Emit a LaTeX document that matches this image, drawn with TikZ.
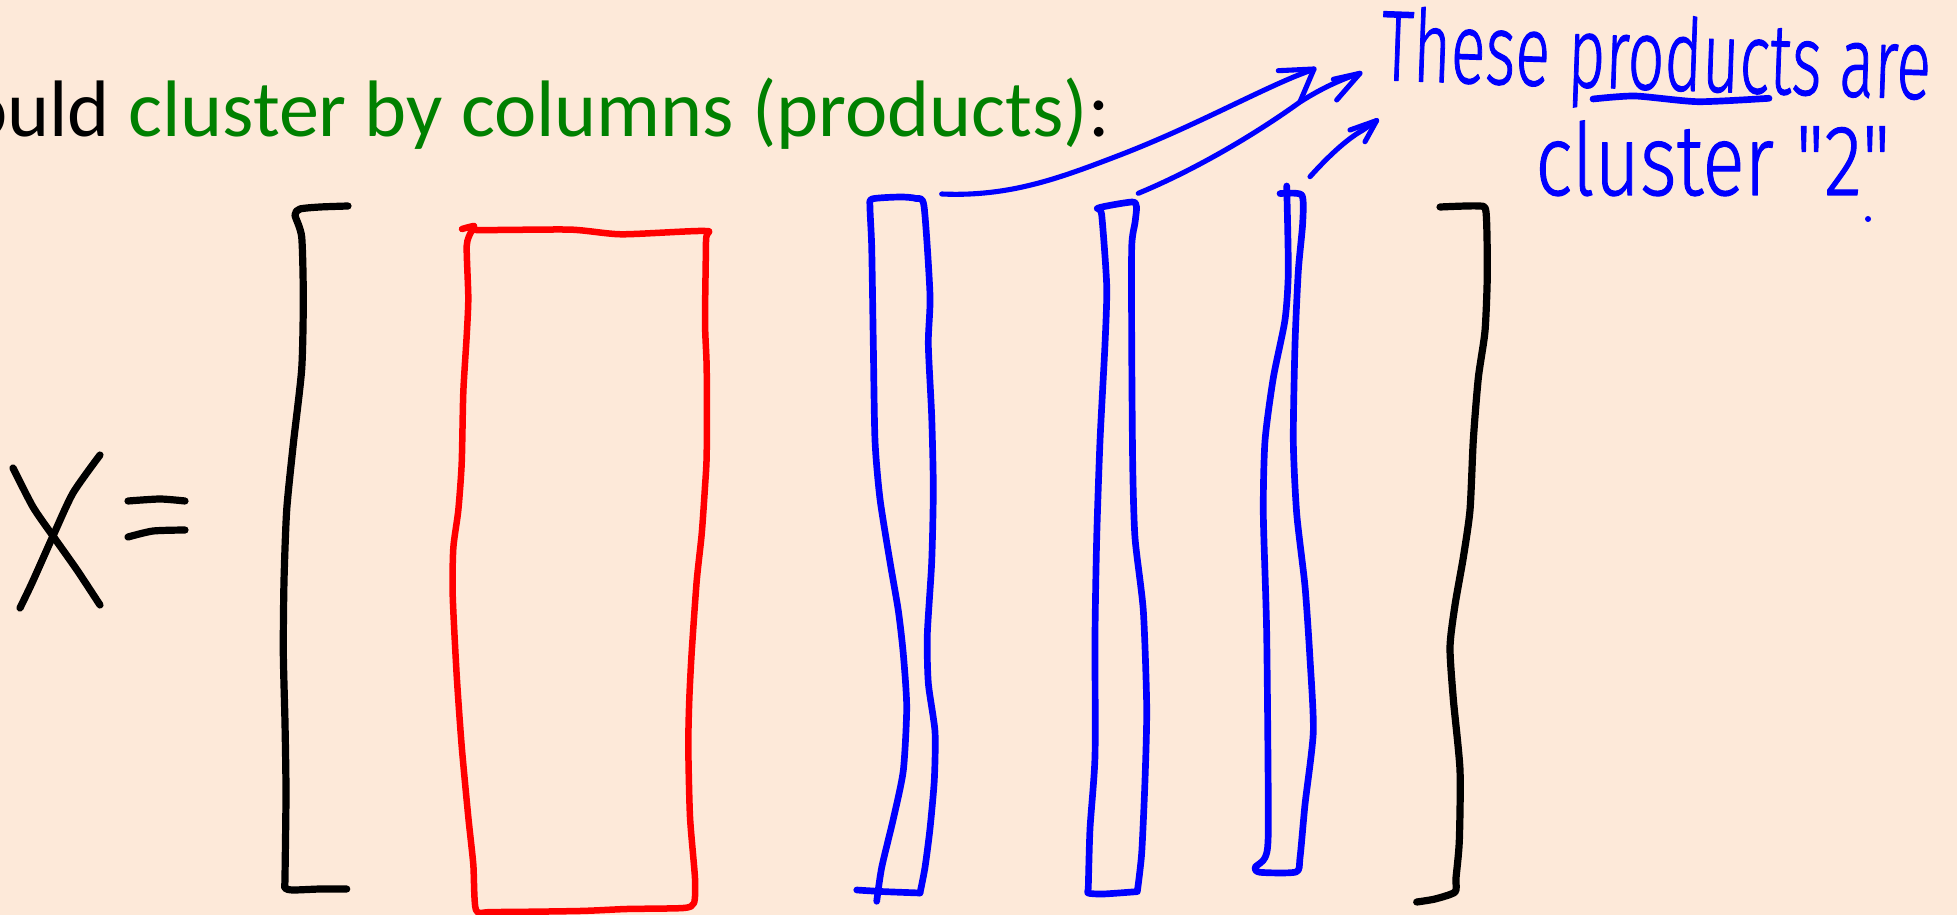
\documentclass[tikz,border=0pt]{standalone}
\usepackage{fontspec}
\setmainfont{Carlito}
\newfontfamily\handfont[FakeBold=1.2]{Fira Sans Light}
\definecolor{slide}{RGB}{253,233,217}
\definecolor{titlegreen}{RGB}{0,128,0}
\definecolor{ink}{RGB}{0,0,255}
\definecolor{pen}{RGB}{255,0,0}

\begin{document}
\begin{tikzpicture}[x=0.02cm,y=-0.02cm,line cap=round,line join=round,
  blackpen/.style={draw=black,line width=4.1pt},
  redpen/.style={draw=pen,line width=3.7pt},
  bluepen/.style={draw=ink,line width=3.8pt},
  arrowpen/.style={draw=ink,line width=2.9pt},
  sketch/.style={smooth,tension=0.4},
  handtext/.style={anchor=base west,inner sep=0pt,text=ink,font=\handfont\fontsize{57}{62}\selectfont}]

% slide background
\fill[slide] (0,0) rectangle (1957,915);
\useasboundingbox (0,0) rectangle (1957,915);
\clip (0,0) rectangle (1957,915);

% heading line
\node[anchor=base west,inner sep=0pt,font=\fontsize{45.6}{54}\selectfont] (title) at (-35,137)
  {ould \textcolor{titlegreen}{cluster by columns (products)}:};

% X =
\draw[blackpen] plot[sketch] coordinates {(13,468) (33,507) (53,536) (77,570) (100,605)};
\draw[blackpen] plot[sketch] coordinates {(100,455) (73,493) (53,536) (32,583) (20,608)};
\draw[blackpen] plot[sketch] coordinates {(128,501) (160,499) (185,501)};
\draw[blackpen] plot[sketch] coordinates {(128,537) (153,531) (185,530)};

% left bracket
\draw[blackpen] plot[sketch] coordinates {(348,206) (320,207) (300,209) (295,215) (301.7,237) (303.3,298)
  (301.7,369) (293.3,444) (286.7,510) (284,581) (283.3,652) (285,723) (286,793) (285,878) (285,888)
  (293,890) (320,889) (346.7,889)};

% right bracket
\draw[blackpen] plot[sketch] coordinates {(1440,207) (1478,206) (1486,212) (1487.3,274) (1485,331)
  (1478.3,378) (1473.3,440) (1470,510) (1463.3,557.5) (1455,605) (1450,647) (1453.3,699) (1460,770)
  (1459.3,841) (1456,878) (1455,892) (1435,899) (1416.7,902)};

% red column block
\draw[redpen] plot[sketch] coordinates {(462,229) (474,226) (476,230) (570,229.6) (621.7,234.3) (705,231)
  (706,240) (705,321.6) (706.7,368.8) (706.7,453.7) (705,486.7) (701.7,534) (696.7,581) (691.7,652)
  (689.3,699) (688.3,746.3) (690,817) (695,878.4) (694,903) (683.3,908) (626.7,909) (580,911) (493,912)
  (476,910) (473.3,864.3) (468.3,817.1) (461.7,746.3) (456.7,675.5) (452.7,595.3) (453.3,548.1)
  (458.3,510.3) (461.7,463.2) (463.3,392.4) (466.7,335.7) (468.3,298) (466.7,246) (471,232) (474,227)};

% blue column 1
\draw[bluepen] plot[sketch] coordinates {(876.7,901.3) (881.7,867.4) (893.3,819) (903.3,770.5) (906.7,707.4)
  (903.3,654) (898.3,610.5) (890,562) (880,499) (875,440.8) (873.3,344) (871.7,247) (870,208) (872,199)
  (900,197) (916,198.5) (924,206) (930,295) (928.3,344) (931.7,416.6) (933.3,489) (931.7,562)
  (927.3,634.7) (928.3,683) (935,731.7) (934.3,780) (930,828.6) (925,867.4) (920,893)};
\draw[bluepen] plot[sketch] coordinates {(920,893) (883.3,891.6) (856.7,890)};

% blue column 2
\draw[bluepen] plot[sketch] coordinates {(1137.3,891.6) (1141.7,852.9) (1145,780) (1146.7,707.4) (1143.3,610.5)
  (1135,537.8) (1132.7,465) (1131.7,344) (1131.7,247) (1135,222.7) (1136.5,207) (1132,202) (1098.3,208)
  (1101.7,215) (1106.7,285.7) (1105,344) (1100,440.8) (1096.7,537.8) (1095,634.7) (1095,756) (1090,828.6)
  (1088.3,886.8) (1088,893) (1103.3,894) (1137.3,891.6)};

% blue column 3
\draw[bluepen] plot[sketch] coordinates {(1280,193.6) (1301.7,195) (1302.7,222.7) (1298.3,271) (1295,344)
  (1293.3,440.8) (1296.7,513.6) (1305,586.3) (1310,659) (1313.3,731.7) (1305,804.4) (1300,857.7)
  (1296,872) (1260,872.3) (1255,867.4) (1265,857.7) (1268.3,828.6) (1266.7,634.7) (1263.3,513.6)
  (1265,440.8) (1273.3,377.8) (1285,319.7) (1288.3,271) (1286.7,186)};

% handwritten note
\node[handtext,rotate=-2] (note1) at (1380,80) {\resizebox{11.0cm}{\height}{These products are}};
\node[handtext] (note2) at (1535,195) {\resizebox{7.1cm}{\height}{cluster "2"}};
\draw[bluepen] plot[sketch] coordinates {(1593,99) (1635,96) (1698,101.7) (1769,98.3)};
\fill[ink] (1868,219) circle (3);

% arrows from the blue columns to the note
\coordinate (c1) at (941.7,194);
\coordinate (c2) at (1138.3,193.3);
\coordinate (c3) at (1310,176.7);
\coordinate (t1) at (1314,69);
\coordinate (t2) at (1360,73.3);
\coordinate (t3) at (1376.7,120.5);

\draw[arrowpen] (c1) .. controls (1010,197) and (1060,178) .. (1120,155)
  .. controls (1190,128) and (1250,95) .. (1296,76) -- (t1);
\draw[arrowpen] (1278.3,70.7) -- (t1) -- (1300,101.7);

\draw[arrowpen] (c2) .. controls (1190,172) and (1250,138) .. (1300,102)
  .. controls (1322,88) and (1342,79) .. (t2);
\draw[arrowpen] (1333.3,79.3) -- (t2) -- (1336.7,100);

\draw[arrowpen] (c3) .. controls (1325,160) and (1345,140) .. (1363,130) -- (t3);
\draw[arrowpen] (1350,130) -- (t3) -- (1365,141.7);
\end{tikzpicture}
\end{document}
